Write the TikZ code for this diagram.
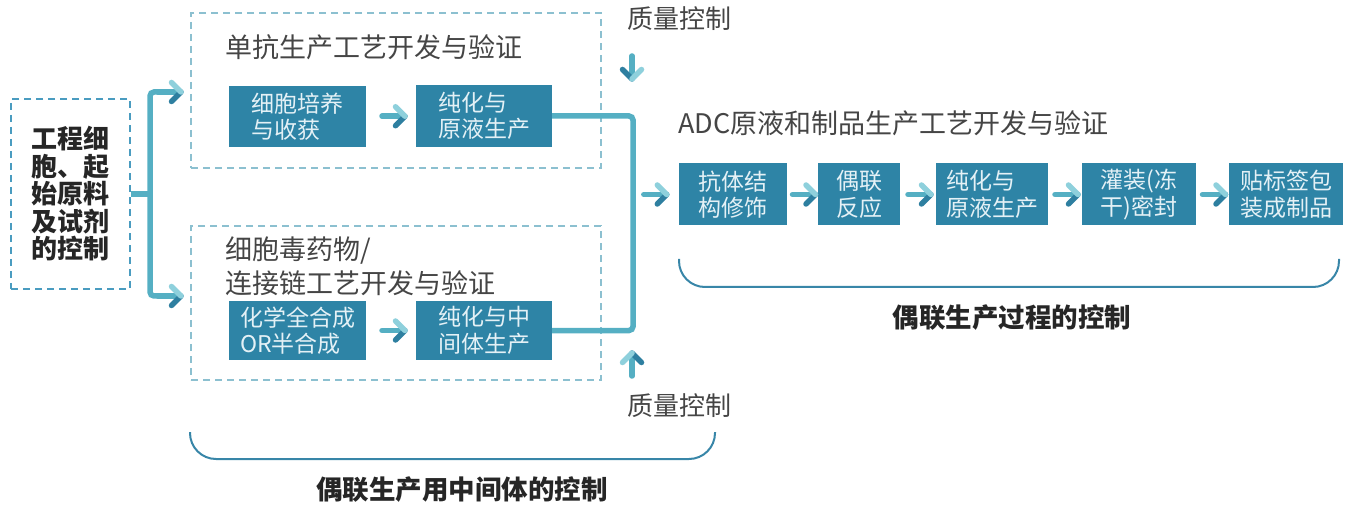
\documentclass[tikz,border=0pt]{standalone}
\usepackage{fontspec}
\setmainfont{Noto Sans CJK SC}
\usepackage{tikz}
\usetikzlibrary{calc}

\definecolor{boxblue}{HTML}{2E84A6}
\definecolor{boxtext}{HTML}{E4F1F6}
\definecolor{dashblue}{HTML}{8CC0D0}
\definecolor{ctrlblue}{HTML}{4A9CC0}
\definecolor{linkblue}{HTML}{55AFC3}
\definecolor{tipdark}{HTML}{2E7FA0}
\definecolor{tiplight}{HTML}{8ED0DC}
\definecolor{bracecol}{HTML}{3886A8}
\definecolor{textgray}{HTML}{454545}

\begin{document}
\begin{tikzpicture}[x=1pt,y=-1pt]
    \tikzstyle{procbox}=[fill=boxblue,text=boxtext,inner sep=0pt,align=left,font=\fontsize{23}{26.5}\selectfont]
    \tikzstyle{group}=[draw=dashblue,line width=1.4pt,dash pattern=on 7pt off 5pt,inner sep=0pt]
    \tikzstyle{ctrlbox}=[draw=ctrlblue,line width=1.4pt,dash pattern=on 7pt off 5pt,inner sep=0pt,align=center,text=black!85,font=\fontsize{26}{27.5}\selectfont\bfseries]
    \tikzstyle{title}=[text=textgray,align=left,inner sep=0pt,font=\fontsize{27}{34}\selectfont]
    \tikzstyle{qc}=[text=textgray,inner sep=0pt,font=\fontsize{26}{30}\selectfont]
    \tikzstyle{label}=[text=black!85,inner sep=0pt,font=\fontsize{26.5}{30}\selectfont\bfseries]
    \tikzstyle{link}=[draw=linkblue,line width=5.5pt,rounded corners=4pt]
    \tikzstyle{brace}=[draw=bracecol,line width=2pt,rounded corners=26pt]
    \tikzset{flow/.pic={
        \draw[draw=linkblue,line width=5.5pt,line cap=round] (-23,0) -- (-3,0);
        \draw[draw=tipdark,line width=5.5pt,line cap=round] (-9.5,9.5) -- (0,0);
        \draw[draw=tiplight,line width=5.5pt,line cap=round] (-9.5,-9.5) -- (0,0);
    }}

    \useasboundingbox (0,0) rectangle (1345,505);

    % starting material control
    \node[ctrlbox,minimum width=119pt,minimum height=190pt] (ctrl) at (70.5,194) {工程细\\胞、起\\始原料\\及试剂\\的控制};

    % antibody branch
    \node[group,minimum width=410pt,minimum height=155pt] (mab) at (396,90.5) {};
    \node[title,anchor=west] (mabt) at (225,47) {单抗生产工艺开发与验证};
    \node[procbox,minimum width=137pt,minimum height=61pt] (cult) at (297.5,116.5) {细胞培养\\与收获};
    \node[procbox,minimum width=136pt,minimum height=62pt] (pur1) at (484,116) {纯化与\\原液生产};

    % payload / linker branch
    \node[group,minimum width=410pt,minimum height=154pt] (tox) at (396,303) {};
    \node[title,anchor=west] (toxt) at (225,266) {细胞毒药物/\\连接链工艺开发与验证};
    \node[procbox,minimum width=137pt,minimum height=59pt] (synth) at (297.5,330.5) {化学全合成\\OR半合成};
    \node[procbox,minimum width=136pt,minimum height=59pt] (pur2) at (484,330.5) {纯化与中\\间体生产};

    % ADC process
    \node[title,anchor=west] (adct) at (678,123) {ADC原液和制品生产工艺开发与验证};
    \node[procbox,minimum width=108pt,minimum height=62pt] (mod) at (733,194.5) {抗体结\\构修饰};
    \node[procbox,minimum width=82pt,minimum height=62pt] (conj) at (859,194.5) {偶联\\反应};
    \node[procbox,minimum width=112pt,minimum height=62pt] (pur3) at (992,194.5) {纯化与\\原液生产};
    \node[procbox,minimum width=114pt,minimum height=62pt] (fill) at (1139,194.5) {灌装(冻\\干)密封};
    \node[procbox,minimum width=114pt,minimum height=62pt] (pack) at (1286,194.5) {贴标签包\\装成制品};

    % quality control
    \node[qc,anchor=west] (qctop) at (627,19) {质量控制};
    \node[qc,anchor=west] (qcbot) at (627,406) {质量控制};

    % stage labels
    \node[label] (lbl1) at (1012,318) {偶联生产过程的控制};
    \node[label] (lbl2) at (462,490) {偶联生产用中间体的控制};

    \coordinate (fork) at (150,194);
    \coordinate (intop) at (181,92);
    \coordinate (inbot) at (181,296);
    \coordinate (join) at (633,194);

    \path[link] (ctrl.east) -- (fork);
    \path[link] (intop) -| (fork) |- (inbot);
    \path[link] (pur1.east) -| (join) |- (pur2.east);

    \pic at (intop) {flow};
    \pic at (inbot) {flow};
    \pic at ($(cult.east)!0.5!(pur1.west)+(14,0)$) {flow};
    \pic at ($(synth.east)!0.5!(pur2.west)+(14,0)$) {flow};
    \pic at ([xshift=-12pt]mod.west) {flow};
    \pic at ($(mod.east)!0.5!(conj.west)+(13,0)$) {flow};
    \pic at ($(conj.east)!0.5!(pur3.west)+(13,0)$) {flow};
    \pic at ($(pur3.east)!0.5!(fill.west)+(13,0)$) {flow};
    \pic at ($(fill.east)!0.5!(pack.west)+(13,0)$) {flow};
    \pic[rotate=-90] at (632,79) {flow};
    \pic[rotate=90] at (632,353) {flow};

    \path[brace] (679,259) -- (679,287) -- (1339,287) -- (1339,259);
    \path[brace] (190,432) -- (190,459) -- (715,459) -- (715,432);
\end{tikzpicture}
\end{document}
